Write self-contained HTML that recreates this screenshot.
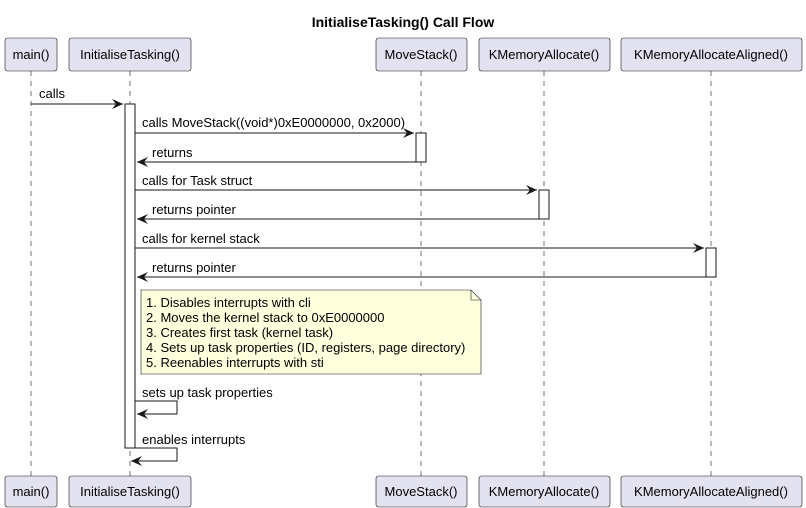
<!DOCTYPE html>
<html><head><meta charset="utf-8"><style>body{margin:0;background:#fff}svg{display:block}text{font-family:"Liberation Sans",sans-serif;font-size:13px;fill:#000}</style></head><body>
<svg width="806" height="508" viewBox="0 0 806 508" xmlns="http://www.w3.org/2000/svg">
<defs><marker id="a" markerWidth="12" markerHeight="10" refX="11" refY="5" orient="auto" markerUnits="userSpaceOnUse"><path d="M0,0 L11,5 L0,10 L4,5 Z" fill="#181818"/></marker></defs>
<text x="403" y="27" text-anchor="middle" font-weight="bold" style="font-size:14px">InitialiseTasking() Call Flow</text>
<g stroke="#181818" stroke-width="0.6" stroke-dasharray="5,5">
<line x1="31" y1="71" x2="31" y2="476"/><line x1="130" y1="71" x2="130" y2="476"/><line x1="421" y1="71" x2="421" y2="476"/><line x1="544" y1="71" x2="544" y2="476"/><line x1="711" y1="71" x2="711" y2="476"/>
</g>
<g fill="#E2E2F0" stroke="#181818" stroke-width="0.6">
<rect x="5" y="38" width="52" height="33" rx="2.5"/><rect x="69" y="38" width="122" height="33" rx="2.5"/><rect x="376" y="38" width="91" height="33" rx="2.5"/><rect x="479" y="38" width="131" height="33" rx="2.5"/><rect x="621" y="38" width="181" height="33" rx="2.5"/>
<rect x="5" y="476" width="52" height="31" rx="2.5"/><rect x="69" y="476" width="122" height="31" rx="2.5"/><rect x="376" y="476" width="91" height="31" rx="2.5"/><rect x="479" y="476" width="131" height="31" rx="2.5"/><rect x="621" y="476" width="181" height="31" rx="2.5"/>
</g>
<g text-anchor="middle">
<text x="31" y="59">main()</text><text x="130" y="59">InitialiseTasking()</text><text x="421" y="59">MoveStack()</text><text x="544" y="59">KMemoryAllocate()</text><text x="711" y="59">KMemoryAllocateAligned()</text>
<text x="31" y="496">main()</text><text x="130" y="496">InitialiseTasking()</text><text x="421" y="496">MoveStack()</text><text x="544" y="496">KMemoryAllocate()</text><text x="711" y="496">KMemoryAllocateAligned()</text>
</g>
<g fill="#fff" stroke="#181818" stroke-width="1">
<rect x="125" y="104" width="10" height="344"/><rect x="416" y="133" width="10" height="29"/><rect x="539" y="190" width="10" height="29"/><rect x="706" y="248" width="10" height="29"/>
</g>
<g stroke="#181818" stroke-width="1" fill="none" marker-end="url(#a)">
<line x1="31" y1="104" x2="123" y2="104"/>
<line x1="135" y1="133" x2="414" y2="133"/><line x1="416" y1="162" x2="137" y2="162"/>
<line x1="135" y1="190" x2="537" y2="190"/><line x1="539" y1="219" x2="137" y2="219"/>
<line x1="135" y1="248" x2="704" y2="248"/><line x1="706" y1="277" x2="137" y2="277"/>
<polyline points="135,401 177,401 177,414 137,414"/>
<polyline points="130,448 177,448 177,461 131,461"/>
</g>
<text x="39" y="98">calls</text>
<text x="142" y="127">calls MoveStack((void*)0xE0000000, 0x2000)</text>
<text x="152" y="157">returns</text>
<text x="142" y="185">calls for Task struct</text>
<text x="152" y="214">returns pointer</text>
<text x="142" y="243">calls for kernel stack</text>
<text x="152" y="272">returns pointer</text>
<path d="M141,290 L471,290 L481,300 L481,374 L141,374 Z" fill="#FEFFDD" stroke="#181818" stroke-width="0.6"/>
<path d="M471,290 L471,300 L481,300" fill="none" stroke="#181818" stroke-width="0.6"/>
<text x="146" y="307">1. Disables interrupts with cli</text>
<text x="146" y="322">2. Moves the kernel stack to 0xE0000000</text>
<text x="146" y="337">3. Creates first task (kernel task)</text>
<text x="146" y="352">4. Sets up task properties (ID, registers, page directory)</text>
<text x="146" y="367">5. Reenables interrupts with sti</text>
<text x="142" y="397">sets up task properties</text>
<text x="142" y="444">enables interrupts</text>
</svg>
</body></html>
